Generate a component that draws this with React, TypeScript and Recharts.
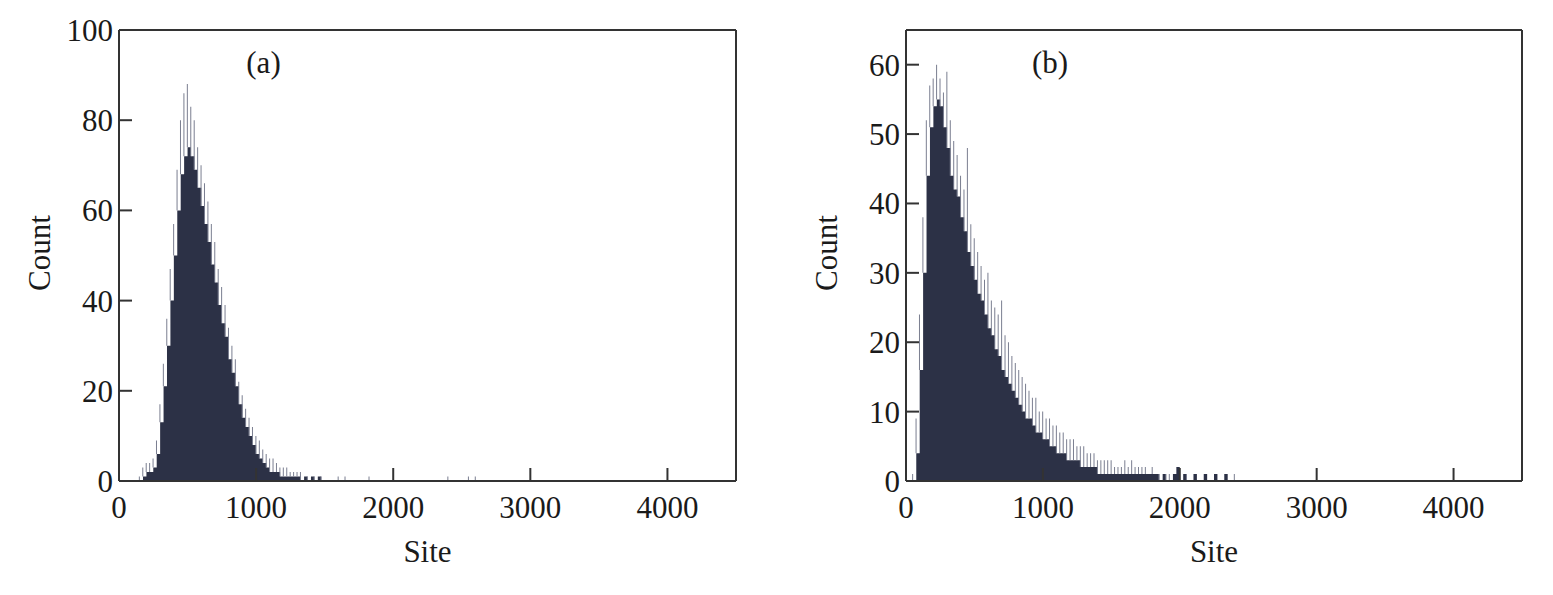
import React from 'react';
import { ComposedChart, Area, Bar, XAxis, YAxis } from 'recharts';

const FONT = '"Liberation Serif", "Times New Roman", serif';
const INK = '#333333';
const BODY = '#2c3146';
const SPIKE = '#7a7e90';

const BIN = 25; // site units per bin
const siteTicks = [0, 1000, 2000, 3000, 4000];

// panel (a): bins start at site 150
const startA = 150;
const bodyA = [
  0, 1, 2, 2, 3, 6, 13, 21, 30, 40, 50, 60, 68, 72, 74, 72, 69, 65, 61, 57,
  53, 48, 44, 39, 35, 32, 27, 24, 21, 17, 14, 12, 10, 8, 6, 5, 4, 3, 2, 2,
  2, 1, 1, 1, 1, 1, 1, 0, 1, 0, 1, 0, 1, 0,
];
const peakA = [
  1, 3, 4, 4, 5, 9, 17, 26, 36, 47, 57, 69, 80, 86, 88, 83, 80, 74, 70, 66,
  62, 57, 53, 47, 43, 39, 34, 30, 27, 22, 19, 16, 14, 12, 10, 9, 7, 6, 5, 5,
  4, 3, 3, 3, 2, 2, 2, 2, 1, 1, 1, 1, 1, 1,
];
const tailA = [1600, 1650, 1825, 2400, 2550, 2600];
const countTicksA = [0, 20, 40, 60, 80, 100];

// panel (b): bins start at site 50
const startB = 50;
const bodyB = [
  0, 4, 16, 30, 44, 51, 54, 55, 54, 51, 48, 44, 42, 41, 38, 36, 33, 31, 29, 27,
  26, 24, 22, 21, 19, 18, 16, 15, 14, 13, 12, 11, 10, 9, 9, 8, 7, 7, 6, 6,
  5, 5, 4, 4, 4, 3, 3, 3, 3, 2, 2, 2, 2, 2, 1, 1, 1, 1, 1, 1,
  1, 1, 1, 1, 1, 1, 1, 1, 1, 1, 1, 1, 0, 1, 0, 0, 1, 2, 0, 1,
  0, 0, 1, 0, 0, 1, 0, 0, 1, 0, 0, 1, 0,
];
const peakB = [
  1, 9, 24, 38, 52, 57, 58, 60, 58, 56, 59, 52, 49, 47, 44, 42, 48, 37, 35, 33,
  31, 29, 30, 26, 25, 24, 26, 21, 20, 18, 17, 16, 15, 14, 13, 12, 12, 10, 10, 9,
  9, 8, 8, 7, 7, 6, 6, 6, 5, 5, 5, 4, 4, 4, 3, 3, 3, 3, 3, 2,
  2, 2, 3, 2, 3, 2, 2, 2, 2, 1, 2, 1, 1, 1, 1, 1, 1, 2, 1, 1,
  1, 0, 1, 0, 0, 1, 0, 0, 1, 0, 0, 1, 0,
];
const tailB = [2400];
const countTicksB = [0, 10, 20, 30, 40, 50, 60];

type Row = { site: number; body: number; spike: [number, number] };

const buildRows = (start: number, body: number[], peak: number[], tail: number[]): Row[] => {
  const rows: Row[] = body.map((b, i) => ({
    site: start + i * BIN,
    body: b,
    spike: [b, Math.max(b, peak[i])] as [number, number],
  }));
  rows.push({ site: start + body.length * BIN, body: 0, spike: [0, 0] });
  tail.forEach((s) => rows.push({ site: s, body: 0, spike: [0, 1] }));
  return rows;
};

const rowsA = buildRows(startA, bodyA, peakA, tailA);
const rowsB = buildRows(startB, bodyB, peakB, tailB);

const tickStyle = { fill: '#1a1a1a', fontSize: 31, fontFamily: FONT };
const lineStyle = { stroke: INK, strokeWidth: 2 };

const textStyle: React.CSSProperties = {
  position: 'absolute',
  fontFamily: FONT,
  fontSize: 31,
  lineHeight: 1,
  color: '#1a1a1a',
  whiteSpace: 'nowrap',
  transform: 'translate(-50%, -50%)',
};

interface PanelProps {
  rows: Row[];
  left: number;
  width: number;
  plotLeft: number;
  plotRight: number;
  yMax: number;
  yTicks: number[];
  tag: string;
}

const Panel: React.FC<PanelProps> = ({ rows, left, width, plotLeft, plotRight, yMax, yTicks, tag }) => {
  const center = (plotLeft + plotRight) / 2;
  return (
    <div style={{ position: 'absolute', left, top: 0, width, height: 595 }}>
      <ComposedChart
        width={width}
        height={595}
        data={rows}
        // axes take 1px each, so plot box = [plotLeft, plotRight] x [30, 481]
        margin={{ top: 29, right: width - plotRight - 1, bottom: 113, left: plotLeft - 1 }}
        barCategoryGap={0}
        barGap={0}
      >
        <XAxis
          dataKey="site"
          type="number"
          domain={[0, 4500]}
          ticks={siteTicks}
          interval={0}
          allowDataOverflow
          height={1}
          tickSize={-13}
          tickMargin={28}
          tick={tickStyle}
          axisLine={lineStyle}
          tickLine={lineStyle}
        />
        <XAxis
          xAxisId="top"
          dataKey="site"
          orientation="top"
          type="number"
          domain={[0, 4500]}
          height={1}
          tick={false}
          tickLine={false}
          axisLine={lineStyle}
        />
        <YAxis
          type="number"
          domain={[0, yMax]}
          ticks={yTicks}
          interval={0}
          allowDataOverflow
          width={1}
          tickSize={-13}
          tickMargin={19}
          tick={tickStyle}
          axisLine={lineStyle}
          tickLine={lineStyle}
        />
        <YAxis
          yAxisId="right"
          orientation="right"
          type="number"
          domain={[0, yMax]}
          width={1}
          tick={false}
          tickLine={false}
          axisLine={lineStyle}
        />
        <Area dataKey="body" type="stepAfter" fill={BODY} fillOpacity={1} stroke="none" isAnimationActive={false} />
        <Bar dataKey="spike" barSize={1} fill={SPIKE} isAnimationActive={false} />
      </ComposedChart>
      <div style={{ ...textStyle, left: center - 164, top: 62 }}>{tag}</div>
      <div style={{ ...textStyle, left: plotLeft - 80, top: 253, transform: 'translate(-50%, -50%) rotate(-90deg)' }}>Count</div>
      <div style={{ ...textStyle, left: center, top: 551 }}>Site</div>
    </div>
  );
};

export default function App() {
  return (
    <div style={{ position: 'absolute', left: 0, top: 0, width: 1553, height: 595, background: '#ffffff', overflow: 'hidden' }}>
      <Panel rows={rowsA} left={0} width={776} plotLeft={119} plotRight={736} yMax={100} yTicks={countTicksA} tag="(a)" />
      <Panel rows={rowsB} left={776} width={777} plotLeft={130} plotRight={746} yMax={65} yTicks={countTicksB} tag="(b)" />
    </div>
  );
}
